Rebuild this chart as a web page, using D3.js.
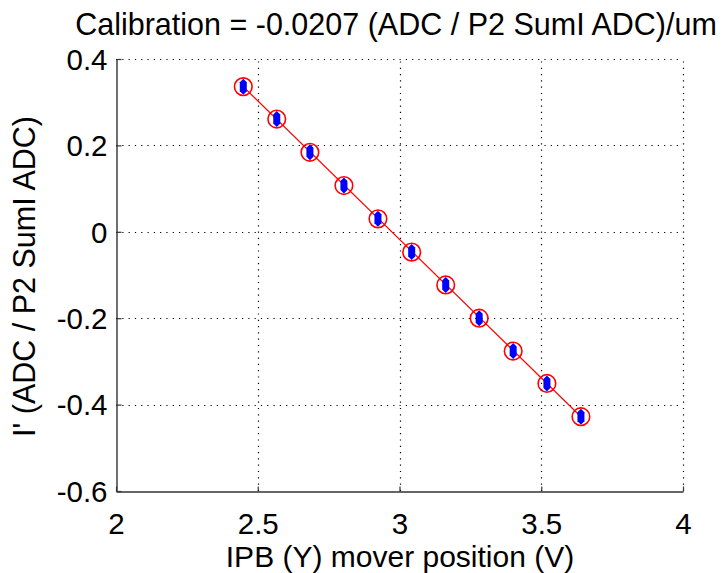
<!DOCTYPE html>
<html><head><meta charset="utf-8">
<script src="https://cdn.jsdelivr.net/npm/d3@7"></script>
<style>body{margin:0;background:#fff}svg{display:block}text{font-family:"Liberation Sans",Arial,sans-serif;fill:#000}</style>
</head><body>
<svg id="c" width="723" height="573"></svg>
<script>
const titleText = "Calibration = -0.0207 (ADC / P2 SumI ADC)/um";
const xLabel = "IPB (Y) mover position (V)";
const yLabel = "I' (ADC / P2 SumI ADC)";
const xTicks = [2, 2.5, 3, 3.5, 4];
const xTickLabels = ["2", "2.5", "3", "3.5", "4"];
const yTicks = [-0.6, -0.4, -0.2, 0, 0.2, 0.4];
const yTickLabels = ["-0.6", "-0.4", "-0.2", "0", "0.2", "0.4"];
const posV = [2.449, 2.567, 2.684, 2.804, 2.924, 3.043, 3.163, 3.281, 3.401, 3.520, 3.640];
const iPrime = [0.336, 0.261, 0.184, 0.107, 0.030, -0.047, -0.123, -0.200, -0.276, -0.351, -0.428];
const fitX = [2.449, 3.640];
const fitY = [0.336, -0.428];

const svg = d3.select("#c");
const m = {l:116, r:683, t:59, b:491};
const x = d3.scaleLinear().domain([2,4]).range([m.l, m.r]);
const y = d3.scaleLinear().domain([-0.6,0.4]).range([m.b, m.t]);

// grid
const g = svg.append("g");
g.selectAll(".gx").data(xTicks.filter(d=>d>2)).enter().append("line")
 .attr("x1",d=>Math.round(x(d))+0.5).attr("x2",d=>Math.round(x(d))+0.5).attr("y1",m.b).attr("y2",m.t)
 .attr("stroke","#000").attr("stroke-width",1.2).attr("stroke-dasharray","1.2,5.1");
g.selectAll(".gy").data(yTicks.filter(d=>d>-0.6)).enter().append("line")
 .attr("y1",d=>Math.round(y(d))+0.5).attr("y2",d=>Math.round(y(d))+0.5).attr("x1",m.l).attr("x2",m.r)
 .attr("stroke","#000").attr("stroke-width",1.2).attr("stroke-dasharray","1.2,5.1");

// axes
const xAxis = d3.axisBottom(x).tickValues(xTicks).tickFormat((d,i)=>xTickLabels[i]).tickSizeInner(-5).tickSizeOuter(0);
const yAxis = d3.axisLeft(y).tickValues(yTicks).tickFormat((d,i)=>yTickLabels[i]).tickSizeInner(-5).tickSizeOuter(0);
const ax = svg.append("g").attr("transform",`translate(0,${m.b+0.5})`).call(xAxis);
const ay = svg.append("g").attr("transform",`translate(${m.l+0.5},0)`).call(yAxis);
[ax,ay].forEach(a=>{
  a.select(".domain").attr("stroke","#333").attr("stroke-width",1.4);
  a.selectAll(".tick line").attr("stroke","#333").attr("stroke-width",1.2);
  a.selectAll("text").style("font-family","'Liberation Sans',Arial,sans-serif").attr("font-size",29.5).attr("fill","#000");
});
ax.selectAll("text").attr("dy",null).attr("y",42.5);
ay.selectAll("text").attr("dy","0.35em").attr("x",-9);

// fit line
svg.append("line").attr("x1",x(fitX[0])).attr("y1",y(fitY[0])).attr("x2",x(fitX[1])).attr("y2",y(fitY[1]))
 .attr("stroke","#ff0000").attr("stroke-width",1.2);

const pts = posV.map((v,i)=>({x:v,y:iPrime[i]}));
// blue markers
svg.selectAll(".b").data(pts).enter().append("path")
 .attr("transform",d=>`translate(${x(d.x)},${y(d.y)})`)
 .attr("d","M0,-8 L3.5,-4.5 L3.5,4.5 L0,8 L-3.5,4.5 L-3.5,-4.5Z").attr("fill","#0000ff");
// red circles
svg.selectAll(".r").data(pts).enter().append("circle")
 .attr("cx",d=>x(d.x)).attr("cy",d=>y(d.y)).attr("r",8.8).attr("fill","none").attr("stroke","#ff0000").attr("stroke-width",1.6);

// texts
svg.append("text").attr("x",396).attr("y",35).attr("text-anchor","middle").attr("font-size",30.5).text(titleText);
svg.append("text").attr("x",400).attr("y",567).attr("text-anchor","middle").attr("font-size",30).text(xLabel);
svg.append("text").attr("transform","translate(35,276.5) rotate(-90)").attr("text-anchor","middle").attr("font-size",30.5).text(yLabel);
</script>
</body></html>
